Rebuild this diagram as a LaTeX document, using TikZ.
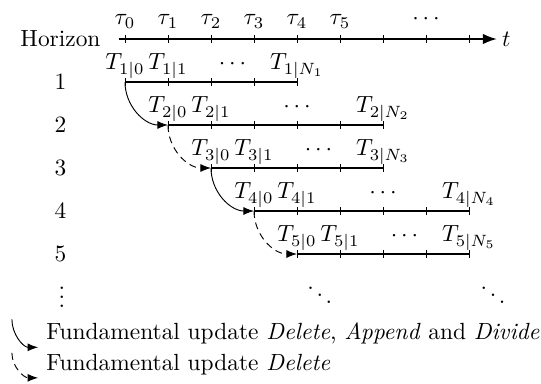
\documentclass[tikz,border=0pt]{standalone}
\usetikzlibrary{arrows.meta}
\tikzset{
  axisline/.style={thick, -{Latex[length=6pt]}},
  rowline/.style={thick},
  tickmark/.style={thin},
  steplbl/.style={anchor=base, inner sep=0pt},
  rownum/.style={inner sep=1pt},
  legendtext/.style={anchor=base west, inner sep=0pt},
  update/.style={-{Latex[length=4.5pt]}},
  deleteonly/.style={-{Latex[length=4.5pt]}, densely dashed}
}
\begin{document}
\begin{tikzpicture}[x=0.646cm, y=0.646cm]
  \useasboundingbox (-2.907,-8.0) rectangle (9.674,0.907);
  % time axis
  \node[rownum] (horizon) at (-1.5,0) {Horizon};
  \coordinate (axisstart) at (-0.15,0);
  \coordinate (axisend) at (8.65,0);
  \draw[axisline] (axisstart) -- (axisend);
  \node[right, inner sep=2pt] (t) at (axisend) {$t$};
  \foreach \i in {0,...,8}
    \draw[tickmark] (\i,0.09) -- (\i,-0.09);
  \foreach \i in {0,...,5}
    \node[steplbl] (tau\i) at (\i,0.33) {$\tau_{\i}$};
  \node[steplbl] (taudots) at (7,0.33) {$\cdots$};
  % horizons
  \foreach \r/\s/\e in {1/0/4,2/1/6,3/2/6,4/3/8,5/4/8} {
    \pgfmathsetmacro{\sone}{\s+1}
    \pgfmathsetmacro{\dotx}{(\s+1+\e)/2}
    \node[rownum] (num\r) at (-1.5,-\r) {\r};
    \coordinate (start\r) at (\s,-\r);
    \coordinate (end\r) at (\e,-\r);
    \draw[rowline] (start\r) -- (end\r);
    \foreach \i in {\s,...,\e}
      \draw[tickmark] (\i,-\r+0.09) -- (\i,-\r-0.09);
    \node[steplbl] (T\r first) at (\s,-\r+0.28) {$T_{\r|0}$};
    \node[steplbl] (T\r second) at (\sone,-\r+0.28) {$T_{\r|1}$};
    \node[steplbl] (T\r dots) at (\dotx,-\r+0.28) {$\cdots$};
    \node[steplbl] (T\r last) at (\e,-\r+0.28) {$T_{\r|N_\r}$};
  }
  \node (vdots) at (-1.47,-5.84) {$\vdots$};
  \node (ddotsA) at (4.53,-5.79) {$\ddots$};
  \node (ddotsB) at (8.56,-5.79) {$\ddots$};
  % updates
  \draw[update] (start1) to[out=-90, in=180] (start2);
  \draw[deleteonly] (start2) to[out=-90, in=180] (start3);
  \draw[update] (start3) to[out=-90, in=180] (start4);
  \draw[deleteonly] (start4) to[out=-90, in=180] (start5);
  % legend
  \coordinate (legAa) at (-2.63,-6.52);
  \coordinate (legAb) at (-2.02,-7.17);
  \coordinate (legBa) at (-2.63,-7.30);
  \coordinate (legBb) at (-2.02,-7.88);
  \draw[update] (legAa) to[out=-90, in=180] (legAb);
  \draw[deleteonly] (legBa) to[out=-90, in=180] (legBb);
  \node[legendtext] (legA) at (-1.84,-6.98)
    {Fundamental update \textit{Delete}, \textit{Append} and \textit{Divide}};
  \node[legendtext] (legB) at (-1.84,-7.70)
    {Fundamental update \textit{Delete}};
\end{tikzpicture}
\end{document}
